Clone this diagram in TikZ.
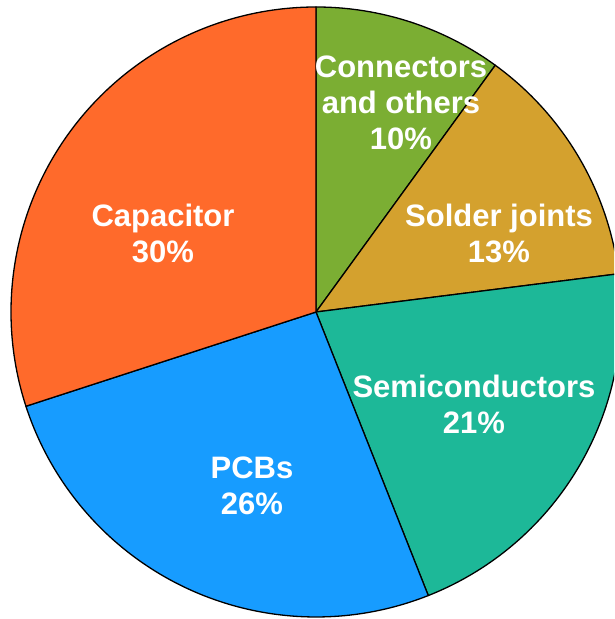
\documentclass[tikz,border=0pt]{standalone}
\usepackage{fontspec}
\setmainfont{Liberation Sans}
\definecolor{capc}{HTML}{FF6A2B}
\definecolor{conc}{HTML}{7BAE33}
\definecolor{solc}{HTML}{D4A12E}
\definecolor{semc}{HTML}{1DB898}
\definecolor{pcbc}{HTML}{179CFF}
\begin{document}
\begin{tikzpicture}[x=1pt,y=1pt,
  slice/.style={draw=black,line width=1.3pt,line join=round},
  lab/.style={text=white,font=\fontsize{31}{36}\selectfont\bfseries,align=center,anchor=base,inner sep=0pt}]
\useasboundingbox (0,0) rectangle (614,619);
\clip (0,0) rectangle (614,619);
\coordinate (c) at (316,307);
\filldraw[slice,fill=conc] (c) -- ++(90:305) arc[start angle=90,end angle=54,radius=305] -- cycle;
\filldraw[slice,fill=solc] (c) -- ++(54:305) arc[start angle=54,end angle=7.2,radius=305] -- cycle;
\filldraw[slice,fill=semc] (c) -- ++(7.2:305) arc[start angle=7.2,end angle=-68.4,radius=305] -- cycle;
\filldraw[slice,fill=pcbc] (c) -- ++(-68.4:305) arc[start angle=-68.4,end angle=-162,radius=305] -- cycle;
\filldraw[slice,fill=capc] (c) -- ++(-162:305) arc[start angle=-162,end angle=-270,radius=305] -- cycle;
\node[lab] (lcon) at (401,469) {Connectors\\and others\\10\%};
\node[lab] (lsol) at (499,356) {Solder joints\\13\%};
\node[lab] (lcap) at (163,356) {Capacitor\\30\%};
\node[lab] (lsem) at (474,185) {Semiconductors\\21\%};
\node[lab] (lpcb) at (252,104) {PCBs\\26\%};
\end{tikzpicture}
\end{document}
